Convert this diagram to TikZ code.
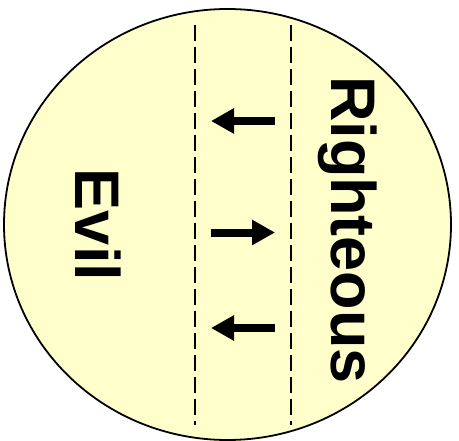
\documentclass[tikz,border=0pt]{standalone}
\usepackage{fontspec}
\setmainfont{Liberation Sans}
\usetikzlibrary{arrows.meta}
\definecolor{paleyellow}{HTML}{FFFFCC}
\tikzset{
  sep/.style={line width=2bp, dash pattern=on 16bp off 6bp, line cap=butt},
  bigarrow/.style={line width=8bp, -{Triangle[length=23bp 0 0,width=24bp 0 0]}},
  label/.style={font=\fontsize{63bp}{70bp}\selectfont\bfseries, inner sep=0pt, anchor=base, rotate=-90}
}
\begin{document}
\begin{tikzpicture}[x=1bp,y=-1bp]
\useasboundingbox (0,0) rectangle (459,441);
\draw[line width=1.8bp, fill=paleyellow] (227.5,224.5) ellipse [x radius=223.5, y radius=215.5];
% separators
\coordinate (l1) at (194.5,25);
\coordinate (l2) at (194.5,425);
\coordinate (r1) at (291,25);
\coordinate (r2) at (291,425);
\draw[sep] (l1) -- (l2);
\draw[sep] (r1) -- (r2);
% arrows
\coordinate (a1s) at (275,121);
\coordinate (a1e) at (211,121);
\coordinate (a2s) at (211,232.5);
\coordinate (a2e) at (275,232.5);
\coordinate (a3s) at (275,328);
\coordinate (a3e) at (211,328);
\draw[bigarrow] (a1s) -- (a1e);
\draw[bigarrow] (a2s) -- (a2e);
\draw[bigarrow] (a3s) -- (a3e);
% labels
\node[label] (evil) at (75,225) {Evil};
\node[label] (righteous) at (331,230) {Righteous};
\end{tikzpicture}
\end{document}
